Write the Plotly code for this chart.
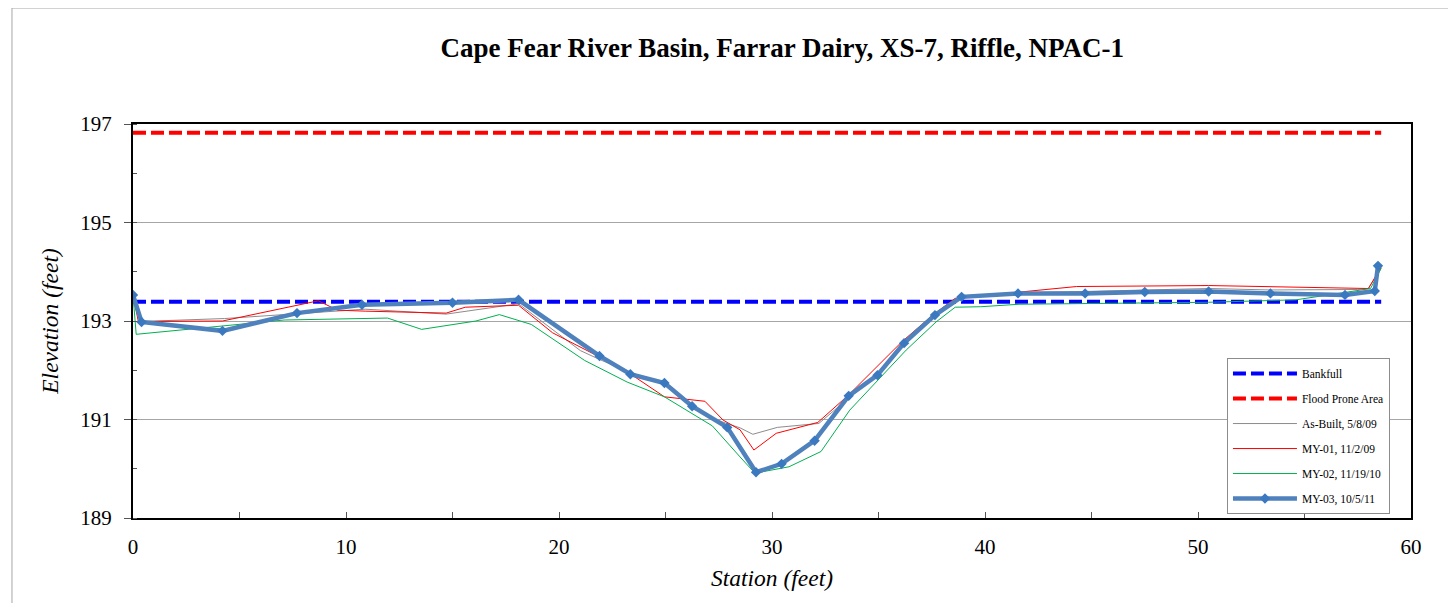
import plotly.graph_objects as go

# ---- data ----
bankfull_x = [0, 58.6]
bankfull_y = [193.39, 193.39]
flood_x = [0, 58.6]
flood_y = [196.82, 196.82]

asbuilt_x = [0, 0.35, 4.3, 10.9, 14.7, 18.1, 21.0, 21.9, 23.35, 24.95, 26.3, 27.4, 28.5, 29.1, 30.25, 31.1, 32.2, 33.5, 35.0, 36.2, 37.6, 38.8, 41.6, 44.7, 50.5, 53.4, 57.5, 58.0, 58.6]
asbuilt_y = [193.53, 192.99, 193.05, 193.24, 193.14, 193.35, 192.40, 192.22, 191.95, 191.72, 191.23, 190.99, 190.83, 190.70, 190.84, 190.88, 190.92, 191.40, 191.95, 192.58, 193.14, 193.50, 193.57, 193.60, 193.66, 193.63, 193.64, 193.66, 194.07]

my01_x = [0, 0.25, 4.2, 8.7, 9.6, 10.9, 14.7, 15.6, 18.1, 19.7, 21.9, 23.3, 24.95, 26.85, 27.7, 28.5, 29.15, 30.2, 32.15, 33.6, 36.1, 37.55, 38.6, 41.6, 44.3, 50.5, 56.0, 58.0, 58.6]
my01_y = [193.53, 192.99, 193.00, 193.41, 193.22, 193.20, 193.16, 193.28, 193.32, 192.76, 192.27, 191.94, 191.46, 191.37, 190.99, 190.79, 190.38, 190.72, 190.94, 191.50, 192.58, 193.12, 193.46, 193.58, 193.70, 193.72, 193.68, 193.66, 194.10]

my02_x = [0, 0.15, 7.1, 11.95, 13.55, 16.1, 17.2, 18.7, 21.2, 23.2, 24.95, 27.2, 28.5, 29.2, 30.8, 32.3, 33.65, 34.9, 36.3, 37.7, 38.6, 39.8, 41.6, 50.5, 54.6, 56.9, 58.1, 58.6]
my02_y = [193.53, 192.73, 193.02, 193.06, 192.83, 193.00, 193.13, 192.93, 192.20, 191.76, 191.46, 190.87, 190.24, 189.91, 190.04, 190.35, 191.19, 191.77, 192.41, 192.98, 193.28, 193.29, 193.34, 193.38, 193.43, 193.58, 193.66, 194.07]

my03_x = [0, 0.4, 4.2, 7.7, 10.75, 15.0, 18.1, 21.9, 23.35, 24.95, 26.25, 27.9, 29.25, 30.45, 32.0, 33.6, 34.95, 36.2, 37.65, 38.9, 41.55, 44.7, 47.5, 50.5, 53.4, 56.9, 58.3, 58.45]
my03_y = [193.53, 192.98, 192.80, 193.16, 193.33, 193.37, 193.43, 192.29, 191.92, 191.74, 191.27, 190.84, 189.93, 190.10, 190.57, 191.48, 191.90, 192.55, 193.12, 193.49, 193.56, 193.56, 193.59, 193.60, 193.56, 193.53, 193.61, 194.12]

x_ticks = [0, 10, 20, 30, 40, 50, 60]
y_ticks = [189, 191, 193, 195, 197]

FONT = "Liberation Serif"

fig = go.Figure()
fig.add_trace(go.Scatter(x=bankfull_x, y=bankfull_y, mode="lines", name="Bankfull",
                         legendgroup="a",
                         line=dict(color="#0000ff", width=4, dash="13px,5px")))
fig.add_trace(go.Scatter(x=flood_x, y=flood_y, mode="lines", name="Flood Prone Area",
                         legendgroup="b",
                         line=dict(color="#ff0000", width=4, dash="13px,5px")))
fig.add_trace(go.Scatter(x=asbuilt_x, y=asbuilt_y, mode="lines", name="As-Built, 5/8/09",
                         legendgroup="c",
                         line=dict(color="#8c8c8c", width=1)))
fig.add_trace(go.Scatter(x=my01_x, y=my01_y, mode="lines", name="MY-01, 11/2/09",
                         legendgroup="d",
                         line=dict(color="#ff0000", width=1)))
fig.add_trace(go.Scatter(x=my02_x, y=my02_y, mode="lines", name="MY-02, 11/19/10",
                         legendgroup="e",
                         line=dict(color="#00b050", width=1)))
fig.add_trace(go.Scatter(x=my03_x, y=my03_y, mode="lines+markers", name="MY-03, 10/5/11",
                         legendgroup="f",
                         line=dict(color="#4f81bd", width=4.5),
                         marker=dict(symbol="diamond", size=8, color="#3a78c0")))

fig.update_layout(
    width=1456, height=603,
    margin=dict(l=125, r=53, t=116, b=93),
    paper_bgcolor="white", plot_bgcolor="white",
    font=dict(family=FONT, color="black"),
    title=dict(text="<b>Cape Fear River Basin, Farrar Dairy, XS-7, Riffle, NPAC-1</b>",
               x=0.508, xref="paper", xanchor="center",
               y=0.934, yref="container", yanchor="middle",
               font=dict(family=FONT, size=27, color="black")),
    legend=dict(x=0.856, y=0.406, xanchor="left", yanchor="top",
                bgcolor="white", bordercolor="#8c8c8c", borderwidth=1,
                font=dict(family=FONT, size=11.5, color="black"),
                itemwidth=64, tracegroupgap=6),
    showlegend=True,
)
fig.update_xaxes(range=[0, 60], tickvals=x_ticks, showgrid=False,
                 showline=True, linecolor="black", linewidth=2, mirror=True,
                 ticks="inside", ticklen=6, tickcolor="#555",
                 minor=dict(dtick=5, ticks="inside", ticklen=6, tickcolor="#555", showgrid=False),
                 tickfont=dict(family=FONT, size=21), ticklabelstandoff=9,
                 title=dict(text="<i>Station (feet)</i>", font=dict(family=FONT, size=23.5), standoff=11),
                 zeroline=False)
fig.update_yaxes(range=[189, 197], tickvals=y_ticks, showgrid=True, gridcolor="#a6a6a6", gridwidth=1,
                 showline=True, linecolor="black", linewidth=2, mirror=True,
                 ticks="outside", ticklen=7, tickcolor="#555",
                 minor=dict(dtick=1, ticks="inside", ticklen=4, tickcolor="#555", showgrid=False),
                 tickfont=dict(family=FONT, size=21), ticklabelstandoff=8,
                 title=dict(text="<i>Elevation (feet)</i>", font=dict(family=FONT, size=23.5), standoff=15),
                 zeroline=False)

# outer chart frame
fig.add_shape(type="rect", xref="paper", yref="paper", x0=-0.0947, x1=1.0321, y0=-0.25, y1=1.2944,
              line=dict(color="#a6a6a6", width=1), fillcolor="rgba(0,0,0,0)", layer="below")

fig.write_html("out.html")
